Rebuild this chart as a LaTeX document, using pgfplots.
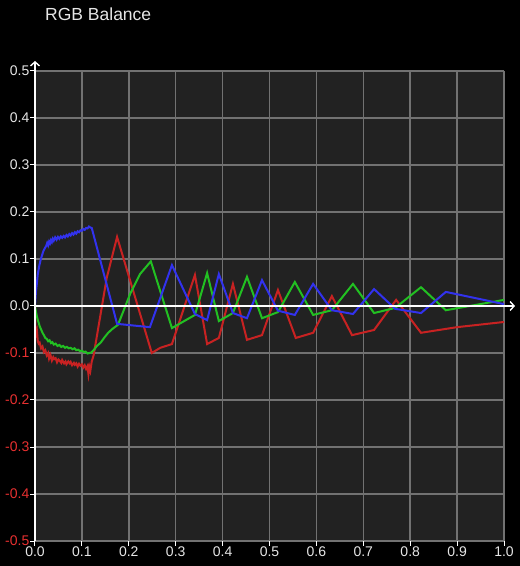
\documentclass[border=0pt]{standalone}
\usepackage{pgfplots}
\pgfplotsset{compat=1.18}
\usepackage{fontspec}
\setmainfont{Liberation Sans}
\usetikzlibrary{arrows.meta}
\definecolor{bgplot}{HTML}{222222}
\definecolor{gridc}{HTML}{727272}
\definecolor{lblc}{HTML}{E6E6E6}
\definecolor{negc}{HTML}{E83030}
\definecolor{cred}{HTML}{C82222}
\definecolor{cgreen}{HTML}{22C022}
\definecolor{cblue}{HTML}{3232EE}
\begin{document}
\begin{tikzpicture}[x=1pt,y=1pt]
\fill[black] (0,0) rectangle (520,566);
\node[anchor=west, text=lblc, font=\fontsize{17.5}{20}\selectfont, inner sep=0pt] at (45,552) {RGB Balance};
\begin{axis}[
  at={(35pt,25pt)}, anchor=south west,
  scale only axis, width=469pt, height=470pt,
  xmin=0, xmax=1, ymin=-0.5, ymax=0.5,
  enlargelimits=false, clip=false,
  axis background/.style={fill=bgplot},
  axis line style={draw=none},
  grid=major, grid style={gridc, line width=1.5pt},
  xtick={0,0.1,...,1.0}, ytick={-0.5,-0.4,...,0.5},
  xticklabels={0.0,0.1,0.2,0.3,0.4,0.5,0.6,0.7,0.8,0.9,1.0},
  yticklabels={\textcolor{negc}{-0.5},\textcolor{negc}{-0.4},\textcolor{negc}{-0.3},\textcolor{negc}{-0.2},\textcolor{negc}{-0.1},0.0,0.1,0.2,0.3,0.4,0.5},
  xtick pos=bottom, ytick pos=left, tick align=outside,
  major tick length=4.5pt,
  tick style={white, line width=1pt},
  ticklabel style={text=lblc, font=\fontsize{14}{16}\selectfont},
  yticklabel style={inner sep=1pt},
  xticklabel style={inner sep=1.5pt},
]
\addplot[cred, line width=2pt] coordinates {
(0.000,0.000) (0.001,-0.045) (0.002,-0.060) (0.004,-0.052) (0.006,-0.075) (0.008,-0.080) (0.010,-0.078)
(0.013,-0.090) (0.016,-0.086) (0.019,-0.098) (0.022,-0.094) (0.025,-0.105) (0.028,-0.100) (0.030,-0.112)
(0.033,-0.104) (0.036,-0.116) (0.039,-0.109) (0.041,-0.113) (0.044,-0.111) (0.047,-0.120) (0.050,-0.114)
(0.053,-0.117) (0.056,-0.121) (0.058,-0.115) (0.062,-0.122) (0.065,-0.118) (0.067,-0.124) (0.071,-0.118)
(0.074,-0.122) (0.076,-0.119) (0.079,-0.126) (0.083,-0.121) (0.085,-0.125) (0.088,-0.122) (0.091,-0.129)
(0.094,-0.123) (0.097,-0.127) (0.100,-0.124) (0.103,-0.131) (0.106,-0.126) (0.109,-0.134) (0.112,-0.128)
(0.114,-0.145) (0.116,-0.130) (0.118,-0.138) (0.121,-0.118) (0.125,-0.105) (0.153,0.060) (0.175,0.147)
(0.249,-0.100) (0.267,-0.089) (0.292,-0.081) (0.341,0.066) (0.367,-0.081) (0.392,-0.068) (0.422,0.047)
(0.452,-0.072) (0.484,-0.062) (0.518,0.034) (0.556,-0.068) (0.593,-0.057) (0.633,0.021) (0.676,-0.062)
(0.723,-0.051) (0.770,0.013) (0.823,-0.057) (0.900,-0.045) (1.000,-0.034)
};
\addplot[cgreen, line width=2pt] coordinates {
(0.000,0.000) (0.002,-0.012) (0.004,-0.022) (0.006,-0.030) (0.008,-0.036) (0.010,-0.043) (0.013,-0.050)
(0.016,-0.057) (0.019,-0.062) (0.022,-0.068) (0.025,-0.070) (0.028,-0.075) (0.031,-0.073) (0.034,-0.079)
(0.037,-0.077) (0.040,-0.082) (0.044,-0.080) (0.048,-0.085) (0.052,-0.083) (0.056,-0.087) (0.060,-0.085)
(0.064,-0.089) (0.068,-0.087) (0.072,-0.090) (0.076,-0.089) (0.080,-0.092) (0.084,-0.090) (0.088,-0.094)
(0.092,-0.093) (0.096,-0.096) (0.100,-0.095) (0.104,-0.098) (0.108,-0.097) (0.112,-0.101) (0.116,-0.100)
(0.120,-0.099) (0.126,-0.093) (0.132,-0.085) (0.140,-0.078) (0.148,-0.067) (0.156,-0.057) (0.166,-0.048)
(0.177,-0.040) (0.203,0.026) (0.224,0.068) (0.247,0.095) (0.292,-0.047) (0.341,-0.019) (0.367,0.070)
(0.392,-0.032) (0.422,-0.015) (0.452,0.062) (0.484,-0.026) (0.518,-0.013) (0.554,0.051) (0.593,-0.019)
(0.633,-0.009) (0.678,0.047) (0.723,-0.015) (0.768,-0.004) (0.823,0.040) (0.876,-0.009) (1.000,0.013)
};
\addplot[cblue, line width=2pt] coordinates {
(0.000,0.000) (0.002,0.030) (0.004,0.048) (0.006,0.068) (0.009,0.085) (0.012,0.098) (0.015,0.108)
(0.018,0.117) (0.021,0.123) (0.024,0.128) (0.026,0.134) (0.028,0.129) (0.030,0.137) (0.032,0.133)
(0.034,0.140) (0.036,0.136) (0.038,0.143) (0.040,0.139) (0.043,0.146) (0.046,0.141) (0.049,0.147)
(0.052,0.143) (0.055,0.148) (0.058,0.145) (0.061,0.149) (0.064,0.146) (0.067,0.151) (0.070,0.148)
(0.073,0.153) (0.076,0.150) (0.079,0.155) (0.082,0.152) (0.085,0.157) (0.088,0.154) (0.091,0.159)
(0.094,0.157) (0.097,0.161) (0.100,0.160) (0.103,0.164) (0.106,0.162) (0.109,0.166) (0.112,0.165)
(0.115,0.169) (0.118,0.167) (0.121,0.166) (0.175,-0.038) (0.245,-0.045) (0.292,0.087) (0.341,-0.017)
(0.367,-0.030) (0.392,0.068) (0.422,-0.015) (0.452,-0.026) (0.484,0.055) (0.518,-0.010) (0.554,-0.019)
(0.593,0.047) (0.633,-0.009) (0.678,-0.017) (0.723,0.036) (0.768,-0.006) (0.823,-0.015) (0.876,0.030)
(1.000,0.004)
};
\draw[white, line width=1.6pt, -{Straight Barb[length=4pt,width=9pt,line width=1.4pt]}] (axis cs:0,-0.5) -- ([yshift=10pt]axis cs:0,0.5);
\draw[white, line width=1.6pt, -{Straight Barb[length=4pt,width=9pt,line width=1.4pt]}] (axis cs:0,0) -- ([xshift=11pt]axis cs:1,0);
\end{axis}
\useasboundingbox (0,0) rectangle (520,566);
\end{tikzpicture}
\end{document}
